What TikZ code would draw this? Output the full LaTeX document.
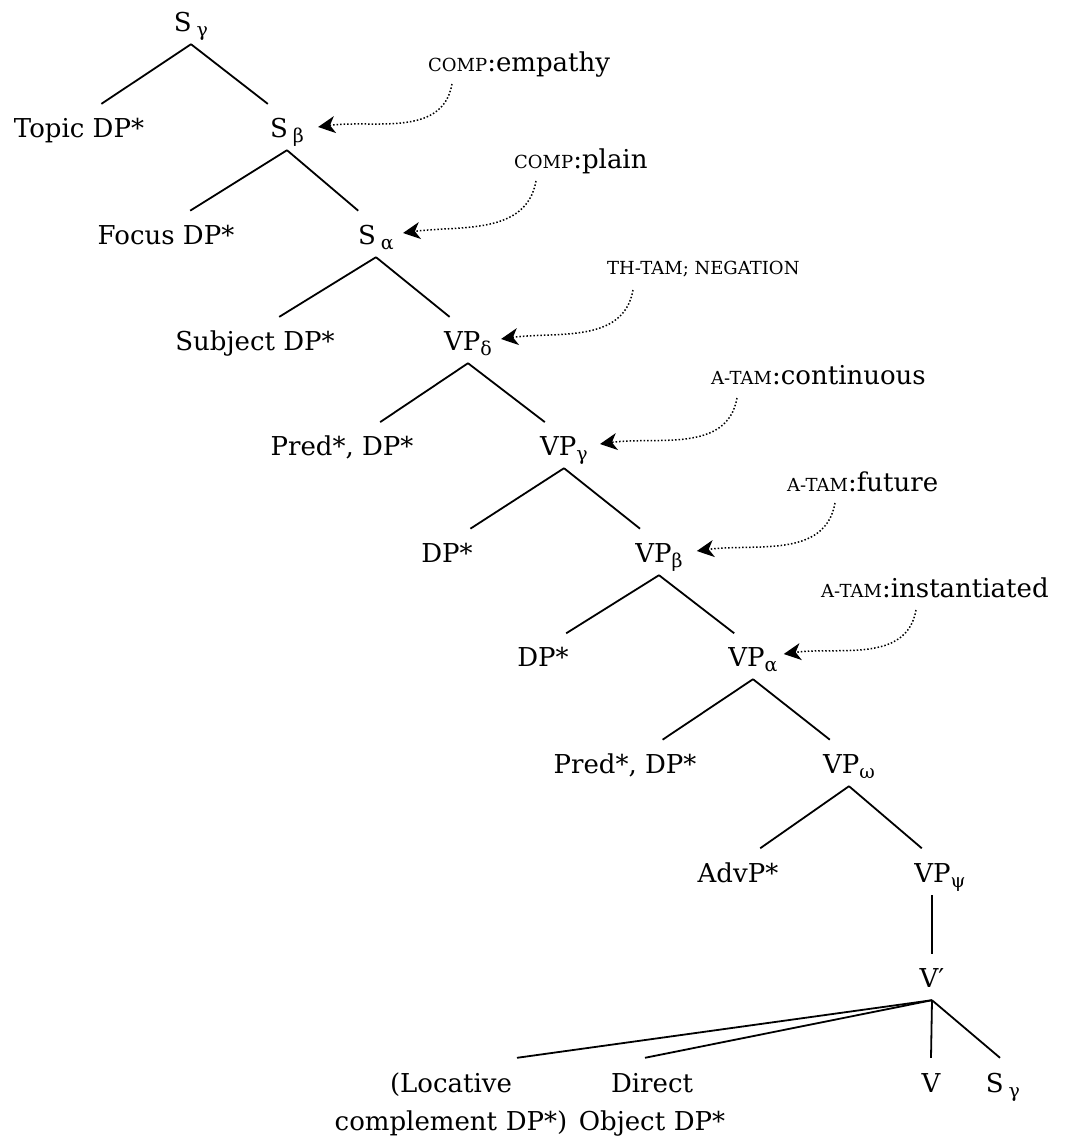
\documentclass[tikz,border=0pt]{standalone}
\usepackage{fontspec}
\setmainfont{DejaVu Serif}
\usetikzlibrary{calc,arrows.meta}
\newcommand\fsc[1]{{\fontsize{18}{20}\selectfont #1}}
\newcommand\sbs[1]{\raisebox{-5pt}{\fontsize{19}{19}\selectfont #1}}
\newcommand\br[2]{\draw[branch] (#1.south) -- ($(#1.south)!0.8!(#2.north)$);}
\begin{document}
\begin{tikzpicture}[x=1pt,y=-1pt,
  tn/.style={inner sep=0pt, text height=18pt, text depth=13pt, anchor=base, font=\fontsize{26}{38}\selectfont},
  ann/.style={inner sep=0pt, anchor=base west, font=\fontsize{26}{30}\selectfont},
  branch/.style={line width=1.8pt},
  feed/.style={line width=1.5pt, dotted, -{Stealth[length=17pt,width=17pt,inset=5pt]}}]
\useasboundingbox (0,0) rectangle (1077,1146);
% tree nodes
\node[tn] (s0) at (191,31) {S\hspace{5pt}\sbs{γ}};
\node[tn] (topic) at (79,137) {Topic DP*};
\node[tn] (sb) at (287,137) {S\hspace{5pt}\sbs{β}};
\node[tn] (focus) at (166,244) {Focus DP*};
\node[tn] (sa) at (376,244) {S\hspace{5pt}\sbs{α}};
\node[tn] (subj) at (255,350) {Subject DP*};
\node[tn] (vpd) at (468,350) {VP\sbs{δ}};
\node[tn] (pred1) at (342,455) {Pred*, DP*};
\node[tn] (vpg) at (564,455) {VP\sbs{γ}};
\node[tn] (dp1) at (447,562) {DP*};
\node[tn] (vpb) at (659,562) {VP\sbs{β}};
\node[tn] (dp2) at (543,666) {DP*};
\node[tn] (vpa) at (753,666) {VP\sbs{α}};
\node[tn] (pred2) at (625,773) {Pred*, DP*};
\node[tn] (vpo) at (849,773) {VP\sbs{ω}};
\node[tn] (advp) at (738,882) {AdvP*};
\node[tn] (vpsi) at (940,882) {VP\sbs{ψ}};
\node[tn] (vbar) at (932,987) {V′};
\node[tn, text width=240pt, align=center] (loc) at (451,1092) {(Locative\\complement DP*)};
\node[tn, text width=170pt, align=center] (dobj) at (652,1092) {Direct\\Object DP*};
\node[tn] (v) at (931,1092) {V};
\node[tn] (sg) at (1003,1092) {S\hspace{5pt}\sbs{γ}};
% branches
\br{s0}{topic} \br{s0}{sb}
\br{sb}{focus} \br{sb}{sa}
\br{sa}{subj} \br{sa}{vpd}
\draw[branch] (vpd.south) -- ($(vpd.south)!0.8!(pred1.north)+(13,0)$);
\br{vpd}{vpg}
\br{vpg}{dp1} \br{vpg}{vpb}
\br{vpb}{dp2} \br{vpb}{vpa}
\draw[branch] (vpa.south) -- ($(vpa.south)!0.8!(pred2.north)+(12,0)$);
\br{vpa}{vpo}
\br{vpo}{advp} \br{vpo}{vpsi}
\draw[branch] (vbar.north |- vpsi.south) -- ($(vbar.north |- vpsi.south)!0.8!(vbar.north)$);
\draw[branch] (vbar.south) -- ($(loc.north)+(66,-16)$);
\draw[branch] (vbar.south) -- ($(dobj.north)+(-7,-16)$);
\draw[branch] (vbar.south) -- ($(v.north)+(0,-16)$);
\draw[branch] (vbar.south) -- ($(sg.north)+(-3,-16)$);
% annotations
\node[ann] (a1) at (428,71) {\fsc{COMP}:empathy};
\node[ann] (a2) at (514,168) {\fsc{COMP}:plain};
\node[ann] (a3) at (607,274) {\fsc{TH-TAM; NEGATION}};
\node[ann] (a4) at (711,384) {\fsc{A-TAM}:continuous};
\node[ann] (a5) at (787,491) {\fsc{A-TAM}:future};
\node[ann] (a6) at (821,597) {\fsc{A-TAM}:instantiated};
\draw[feed] ($(a1.base west)+(24,13)$) to[out=-100,in=8] ($(sb.base east)+(14,-10)$);
\draw[feed] ($(a2.base west)+(22,13)$) to[out=-100,in=8] ($(sa.base east)+(9,-11)$);
\draw[feed] ($(a3.base west)+(26,16)$) to[out=-100,in=8] ($(vpd.base east)+(9,-11)$);
\draw[feed] ($(a4.base west)+(26,14)$) to[out=-100,in=8] ($(vpg.base east)+(12,-11)$);
\draw[feed] ($(a5.base west)+(48,12)$) to[out=-100,in=8] ($(vpb.base east)+(14,-11)$);
\draw[feed] ($(a6.base west)+(95,13)$) to[out=-100,in=8] ($(vpa.base east)+(6,-12)$);
\end{tikzpicture}
\end{document}
